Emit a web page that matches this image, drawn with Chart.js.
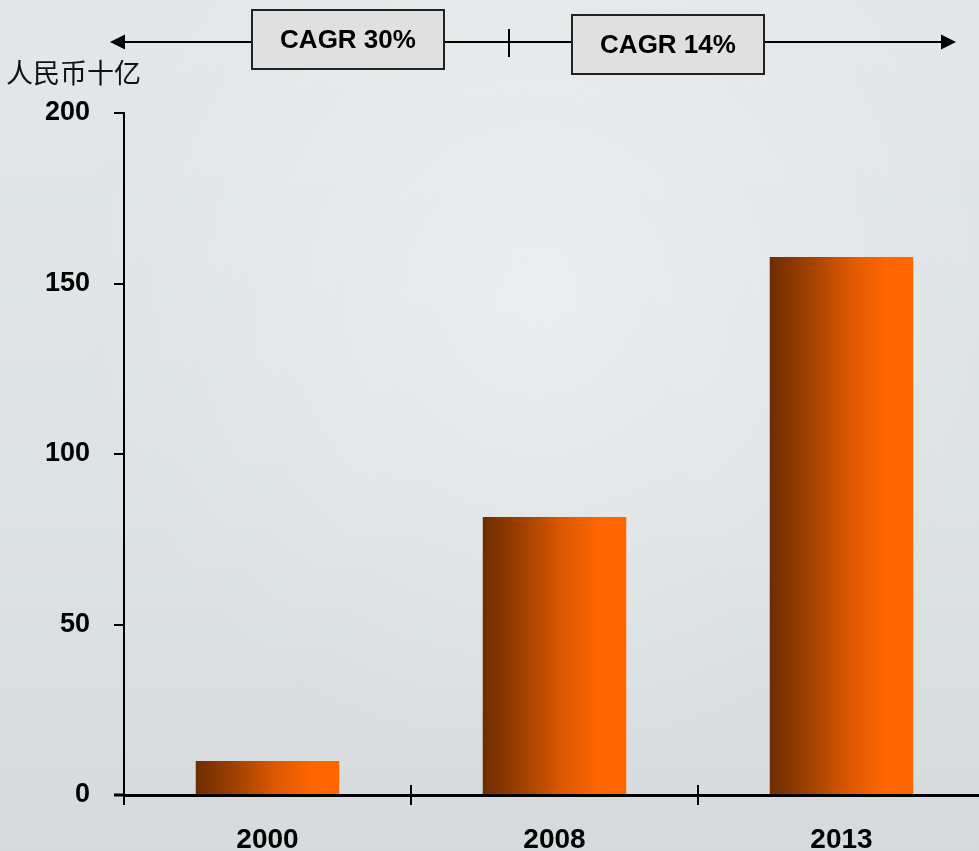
<!DOCTYPE html>
<html>
<head>
<meta charset="utf-8">
<script src="https://cdn.jsdelivr.net/npm/chart.js@4"></script>
<style>
  html, body { margin: 0; padding: 0; overflow: hidden; }
  body {
    width: 979px; height: 851px;
    background:
      radial-gradient(ellipse at 55% 35%, rgba(255,255,255,0.35), rgba(255,255,255,0) 60%),
      linear-gradient(180deg, #e3e7e9 0%, #dde2e4 60%, #d6dadc 100%);
  }
  #wrap { position: absolute; left: 0; top: 0; width: 990px; height: 851px; }
</style>
</head>
<body>
<div id="wrap"><canvas id="c"></canvas></div>
<script>
const categories = ["2000", "2008", "2013"];
const values = [10, 81.5, 157.8];
const yTicks = [0, 50, 100, 150, 200];
const unitLabel = "人民币十亿";
const cagrLabels = ["CAGR 30%", "CAGR 14%"];

const FONT = "'Liberation Sans', Arial, sans-serif";

function barGradient(ctx) {
  const chart = ctx.chart;
  const xs = chart.scales && chart.scales.x;
  if (!chart.chartArea || !xs || ctx.dataIndex === undefined) return '#ff6600';
  const cx = xs.getPixelForValue(ctx.dataIndex);
  const w = (chart.chartArea.right - chart.chartArea.left) / categories.length * 0.5;
  const g = chart.ctx.createLinearGradient(cx - w / 2, 0, cx + w / 2, 0);
  g.addColorStop(0, '#6f2c00');
  g.addColorStop(0.3, '#a44300');
  g.addColorStop(0.55, '#dc5800');
  g.addColorStop(0.8, '#fd6600');
  g.addColorStop(1, '#ff6600');
  return g;
}

const decor = {
  id: 'decor',
  afterDraw(chart) {
    const c = chart.ctx;
    const xs = chart.scales.x;
    const ca = chart.chartArea;
    c.save();
    c.strokeStyle = '#000';
    c.fillStyle = '#000';
    c.lineWidth = 2;
    c.beginPath();
    c.moveTo(ca.left, ca.bottom);
    c.lineTo(ca.left, ca.bottom + 10);
    c.stroke();
    c.lineWidth = 3;
    c.beginPath();
    c.moveTo(ca.left - 10, ca.bottom);
    c.lineTo(ca.left, ca.bottom);
    c.stroke();
    c.lineWidth = 2;
    for (let i = 1; i < categories.length; i++) {
      const bx = (xs.getPixelForValue(i - 1) + xs.getPixelForValue(i)) / 2;
      c.beginPath();
      c.moveTo(bx, ca.bottom - 10);
      c.lineTo(bx, ca.bottom + 10);
      c.stroke();
    }
    const ay = 42;
    c.lineWidth = 2;
    c.beginPath();
    c.moveTo(122, ay);
    c.lineTo(944, ay);
    c.stroke();
    c.beginPath();
    c.moveTo(110, ay); c.lineTo(125, ay - 7.5); c.lineTo(125, ay + 7.5); c.closePath(); c.fill();
    c.beginPath();
    c.moveTo(956, ay); c.lineTo(941, ay - 7.5); c.lineTo(941, ay + 7.5); c.closePath(); c.fill();
    c.beginPath();
    c.moveTo(509, 29); c.lineTo(509, 57); c.stroke();
    const boxes = [
      { x: 252, y: 10, w: 192, h: 59, t: cagrLabels[0] },
      { x: 572, y: 15, w: 192, h: 59, t: cagrLabels[1] }
    ];
    boxes.forEach(b => {
      c.fillStyle = '#e0e0e0';
      c.fillRect(b.x, b.y, b.w, b.h);
      c.lineWidth = 2;
      c.strokeStyle = '#222';
      c.strokeRect(b.x, b.y, b.w, b.h);
      c.fillStyle = '#000';
      c.font = "bold 26px " + FONT;
      c.textAlign = 'center';
      c.textBaseline = 'middle';
      c.fillText(b.t, b.x + b.w / 2, b.y + b.h / 2 + 1);
    });
    c.fillStyle = '#111';
    c.font = "27px 'Noto Sans CJK SC', sans-serif";
    c.textAlign = 'left';
    c.textBaseline = 'middle';
    c.fillText(unitLabel, 6, 73);
    c.restore();
  }
};

new Chart(document.getElementById('c'), {
  type: 'bar',
  data: {
    labels: categories,
    datasets: [{
      data: values,
      backgroundColor: barGradient,
      borderWidth: 0,
      barPercentage: 0.5,
      categoryPercentage: 1.0
    }]
  },
  options: {
    responsive: true,
    maintainAspectRatio: false,
    animation: false,
    layout: { padding: { top: 113, right: 5, left: 0, bottom: 0 } },
    plugins: { legend: { display: false }, tooltip: { enabled: false } },
    scales: {
      x: {
        offset: true,
        grid: { display: false },
        border: { display: true, color: '#000', width: 3 },
        ticks: { color: '#000', font: { family: FONT, size: 28, weight: 'bold' }, padding: 20 },
        afterFit(s) { s.height = 56; }
      },
      y: {
        min: 0, max: 200,
        afterBuildTicks(s) { s.ticks = yTicks.map(v => ({ value: v })); },
        grid: { drawOnChartArea: false, tickLength: 10, color: '#000', lineWidth: 2 },
        border: { display: true, color: '#000', width: 2 },
        ticks: { color: '#000', font: { family: FONT, size: 27, weight: 'bold' }, padding: 24 },
        afterFit(s) { s.width = 124; }
      }
    }
  },
  plugins: [decor]
});
</script>
</body>
</html>
